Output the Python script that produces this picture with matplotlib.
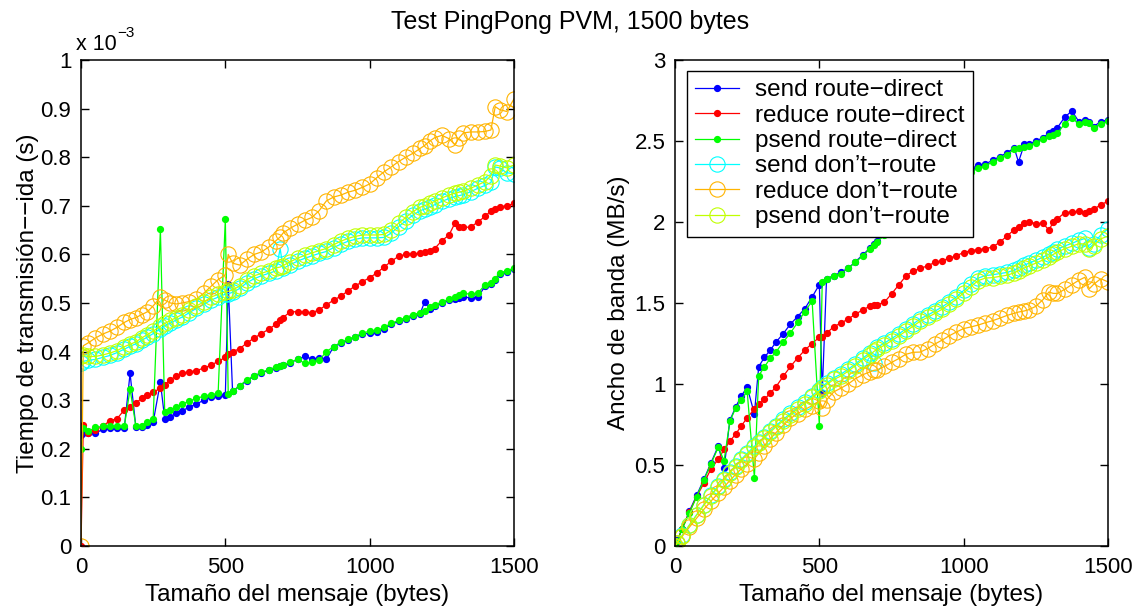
import numpy as np
import matplotlib
matplotlib.use('Agg')
import matplotlib.pyplot as plt

plt.rcParams['font.family'] = ['Liberation Sans', 'DejaVu Sans']
plt.rcParams['font.size'] = 16

# message size (bytes)
sizes = [0, 8, 25, 50, 75, 100, 125, 150, 170, 190, 210, 230, 250, 275, 290, 310, 330, 350,
         375, 400, 425, 450, 475, 500, 510, 525, 550, 575, 600, 625, 650, 675, 690, 700,
         725, 750, 775, 800, 825, 850, 875, 900, 925, 950, 975, 1000, 1025, 1050, 1075,
         1100, 1125, 1150, 1175, 1190, 1210, 1225, 1250, 1275, 1295, 1310, 1325, 1350,
         1375, 1400, 1420, 1435, 1450, 1475, 1500]

# round trip time, in ms (axis shows x 10^-3 s)
send_direct = [0.228, 0.232, 0.232, 0.232, 0.240, 0.243, 0.243, 0.243, 0.355, 0.245, 0.245,
               0.248, 0.255, 0.337, 0.262, 0.266, 0.273, 0.278, 0.286, 0.292, 0.300, 0.307,
               0.309, 0.310, 0.540, 0.318, 0.330, 0.340, 0.350, 0.356, 0.362, 0.367, 0.370,
               0.372, 0.377, 0.384, 0.390, 0.385, 0.386, 0.384, 0.410, 0.418, 0.424, 0.430,
               0.436, 0.438, 0.440, 0.447, 0.456, 0.462, 0.468, 0.474, 0.478, 0.502, 0.488,
               0.494, 0.500, 0.506, 0.508, 0.511, 0.513, 0.510, 0.512, 0.535, 0.540, 0.548,
               0.560, 0.563, 0.570]
reduce_direct = [0.0, 0.249, 0.232, 0.239, 0.246, 0.258, 0.262, 0.280, 0.285, 0.294, 0.304,
                 0.310, 0.316, 0.325, 0.332, 0.342, 0.350, 0.356, 0.358, 0.361, 0.366, 0.372,
                 0.380, 0.388, 0.395, 0.400, 0.406, 0.418, 0.428, 0.437, 0.446, 0.456, 0.464,
                 0.470, 0.482, 0.482, 0.481, 0.480, 0.486, 0.496, 0.506, 0.514, 0.525, 0.535,
                 0.544, 0.552, 0.562, 0.574, 0.586, 0.596, 0.600, 0.601, 0.602, 0.604, 0.606,
                 0.612, 0.628, 0.640, 0.664, 0.656, 0.656, 0.656, 0.667, 0.678, 0.690, 0.694,
                 0.698, 0.700, 0.705]
psend_direct = [0.200, 0.242, 0.236, 0.244, 0.246, 0.246, 0.246, 0.246, 0.323, 0.247, 0.247,
                0.255, 0.262, 0.652, 0.276, 0.280, 0.285, 0.292, 0.298, 0.304, 0.308, 0.311,
                0.314, 0.673, 0.313, 0.318, 0.330, 0.342, 0.350, 0.357, 0.363, 0.368, 0.371,
                0.373, 0.378, 0.384, 0.376, 0.378, 0.382, 0.400, 0.410, 0.419, 0.425, 0.431,
                0.438, 0.442, 0.444, 0.450, 0.458, 0.464, 0.470, 0.476, 0.480, 0.484, 0.491,
                0.496, 0.502, 0.508, 0.512, 0.516, 0.520, 0.518, 0.520, 0.538, 0.542, 0.550,
                0.562, 0.566, 0.572]
send_noroute = [0.376, 0.380, 0.382, 0.384, 0.388, 0.392, 0.398, 0.405, 0.411, 0.416, 0.423,
                0.430, 0.437, 0.447, 0.453, 0.459, 0.465, 0.471, 0.480, 0.489, 0.497, 0.506,
                0.512, 0.518, 0.519, 0.522, 0.530, 0.542, 0.550, 0.556, 0.561, 0.566, 0.612,
                0.571, 0.579, 0.586, 0.592, 0.597, 0.602, 0.606, 0.614, 0.621, 0.627, 0.631,
                0.634, 0.634, 0.634, 0.635, 0.644, 0.657, 0.669, 0.681, 0.690, 0.693, 0.698,
                0.702, 0.709, 0.715, 0.719, 0.721, 0.723, 0.729, 0.736, 0.742, 0.748, 0.780,
                0.778, 0.768, 0.766]
reduce_noroute = [0.0, 0.412, 0.418, 0.428, 0.436, 0.442, 0.450, 0.460, 0.466, 0.470, 0.476,
                  0.482, 0.494, 0.512, 0.506, 0.500, 0.498, 0.500, 0.503, 0.508, 0.520, 0.534,
                  0.548, 0.558, 0.600, 0.582, 0.578, 0.590, 0.600, 0.605, 0.615, 0.628, 0.636,
                  0.644, 0.654, 0.662, 0.670, 0.676, 0.690, 0.710, 0.718, 0.722, 0.728, 0.732,
                  0.738, 0.745, 0.758, 0.770, 0.780, 0.791, 0.800, 0.808, 0.818, 0.824, 0.834,
                  0.840, 0.845, 0.838, 0.826, 0.840, 0.850, 0.852, 0.852, 0.853, 0.856, 0.904,
                  0.898, 0.894, 0.920]
psend_noroute = [0.390, 0.392, 0.390, 0.390, 0.393, 0.397, 0.402, 0.410, 0.415, 0.420, 0.428,
                 0.435, 0.442, 0.452, 0.458, 0.464, 0.470, 0.476, 0.485, 0.494, 0.502, 0.512,
                 0.518, 0.523, 0.524, 0.527, 0.535, 0.548, 0.556, 0.561, 0.566, 0.572, 0.574,
                 0.577, 0.585, 0.592, 0.598, 0.603, 0.608, 0.612, 0.620, 0.627, 0.633, 0.637,
                 0.640, 0.640, 0.640, 0.641, 0.650, 0.664, 0.676, 0.688, 0.697, 0.700, 0.705,
                 0.709, 0.716, 0.722, 0.726, 0.728, 0.730, 0.736, 0.743, 0.750, 0.762, 0.784,
                 0.782, 0.778, 0.784]

labels = ['send route\u2212direct', 'reduce route\u2212direct', 'psend route\u2212direct',
          'send don\u2019t\u2212route', 'reduce don\u2019t\u2212route', 'psend don\u2019t\u2212route']
colors = ['#0000ff', '#ff0000', '#00ff00', '#00ffff', '#ffb400', '#c0ff00']
series = [send_direct, reduce_direct, psend_direct, send_noroute, reduce_noroute, psend_noroute]

x = np.array(sizes, dtype=float)


def bandwidth(t_ms):
    # MB/s = bytes / seconds / 1e6
    t = np.array(t_ms)
    bw = np.zeros_like(x)
    ok = t > 0
    bw[ok] = x[ok] / (t[ok] * 1e-3) / 1e6
    return bw


def style_axes(ax, yticks, ylim):
    ax.set_xlim(0, 1500)
    ax.set_ylim(*ylim)
    ax.set_xticks([0, 500, 1000, 1500])
    ax.set_yticks(yticks)
    ax.set_yticklabels(['%g' % v for v in yticks])
    ax.tick_params(direction='in', top=True, right=True, length=6, width=1, pad=7)
    ax.tick_params(axis='x', pad=8)
    for s in ax.spines.values():
        s.set_linewidth(1.1)


fig = plt.figure(figsize=(11.4, 6.1), dpi=100)
ax1 = fig.add_axes([81 / 1140, 64 / 610, 433 / 1140, 486 / 610])
ax2 = fig.add_axes([675 / 1140, 64 / 610, 433 / 1140, 486 / 610])

for i in range(6):
    if i < 3:
        kw = dict(marker='o', markersize=4.2, markerfacecolor=colors[i], markeredgecolor=colors[i])
    else:
        kw = dict(marker='o', markersize=11, markerfacecolor='none', markeredgecolor=colors[i],
                  markeredgewidth=0.8)
    ax1.plot(x, series[i], '-', color=colors[i], linewidth=0.9, **kw)
    ax2.plot(x, bandwidth(series[i]), '-', color=colors[i], linewidth=0.9, label=labels[i], **kw)

style_axes(ax1, np.round(np.arange(0, 1.01, 0.1), 1), (0, 1))
style_axes(ax2, np.arange(0, 3.01, 0.5), (0, 3))

ax1.set_xlabel('Tamaño del mensaje (bytes)', labelpad=4, fontsize=17.5)
ax2.set_xlabel('Tamaño del mensaje (bytes)', labelpad=4, fontsize=17.5)
ax1.set_ylabel('Tiempo de transmisión\u2212\u2212ida (s)', labelpad=1, fontsize=17.5)
ax2.set_ylabel('Ancho de banda (MB/s)', labelpad=3, fontsize=17.5)

fig.text(0.5, 1 - 22 / 610, 'Test PingPong PVM, 1500 bytes', ha='center', va='center', fontsize=18)
fig.text(76 / 1140, 1 - 44 / 610, 'x 10', ha='left', va='center', fontsize=15.5)
fig.text(117 / 1140, 1 - 33 / 610, '\u22123', ha='left', va='center', fontsize=11)

leg = ax2.legend(loc='upper left', bbox_to_anchor=(0.027, 0.978), borderaxespad=0,
                 fancybox=False, edgecolor='black', framealpha=1, fontsize=17.5,
                 handlelength=1.8, handletextpad=0.65, labelspacing=0.14, numpoints=1,
                 borderpad=0.35)
leg.get_frame().set_linewidth(1.0)

fig.savefig('out.png', dpi=100)
